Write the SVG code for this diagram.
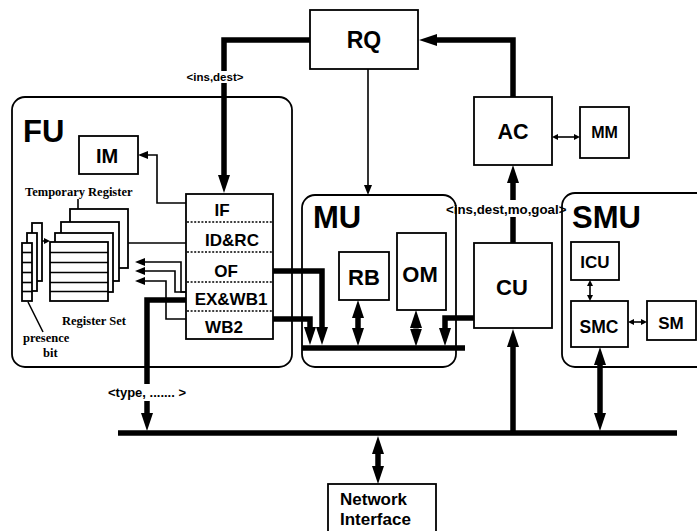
<svg xmlns="http://www.w3.org/2000/svg" width="697" height="531" viewBox="0 0 697 531">
<style>
.box{fill:#fff;stroke:#000;stroke-width:1.8}
.cont{fill:none;stroke:#000;stroke-width:1.8}
.thick{fill:none;stroke:#000;stroke-width:5.5}
.thin{fill:none;stroke:#000;stroke-width:1.6}
.dot{stroke:#000;stroke-width:1.6;stroke-dasharray:2,1.6}
.t{font-family:"Liberation Sans",Arial,sans-serif;font-weight:bold;fill:#000}
.s{font-family:"Liberation Serif","Times New Roman",serif;font-weight:bold;fill:#000;font-size:12.5px}
</style>
<defs>
<marker id="big" markerUnits="userSpaceOnUse" viewBox="0 -6 18 12" refX="0" refY="0" markerWidth="18" markerHeight="12" orient="auto-start-reverse"><path d="M0,-6 L18,0 L0,6 z"/></marker>
<marker id="sm" markerUnits="userSpaceOnUse" viewBox="0 -4 10 8" refX="0" refY="0" markerWidth="10" markerHeight="8" orient="auto-start-reverse"><path d="M0,-4 L10,0 L0,4 z"/></marker>
<marker id="xs" markerUnits="userSpaceOnUse" viewBox="0 -3 6 6" refX="0" refY="0" markerWidth="6" markerHeight="6" orient="auto-start-reverse"><path d="M0,-3 L6,0 L0,3 z"/></marker>
</defs>

<g id="FU">
<rect class="cont" x="12" y="97" width="280" height="270" rx="13"/>
<text class="t" x="23" y="142" font-size="31">FU</text>
</g>
<g id="MU">
<rect class="cont" x="302" y="195" width="154" height="172" rx="13"/>
<text class="t" x="313" y="228" font-size="31">MU</text>
</g>
<g id="SMU">
<rect class="cont" x="562" y="193" width="160" height="174" rx="13"/>
<text class="t" x="572" y="228" font-size="31">SMU</text>
</g>

<g id="RQ"><rect class="box" x="310" y="10" width="108" height="59"/><text class="t" x="364" y="48" font-size="23" text-anchor="middle">RQ</text></g>
<g id="AC"><rect class="box" x="474" y="97" width="78" height="68"/><text class="t" x="513" y="139" font-size="21.5" text-anchor="middle">AC</text></g>
<g id="MM"><rect class="box" x="580" y="107" width="49" height="51"/><text class="t" x="604.5" y="138" font-size="16" text-anchor="middle">MM</text></g>
<g id="IM"><rect class="box" x="79" y="136" width="59" height="38"/><text class="t" x="107" y="163" font-size="20" text-anchor="middle">IM</text></g>
<g id="CU"><rect class="box" x="474" y="243" width="78" height="85"/><text class="t" x="512" y="295" font-size="22" text-anchor="middle">CU</text></g>
<g id="RB"><rect class="box" x="339" y="252" width="50" height="48"/><text class="t" x="364" y="285" font-size="22" text-anchor="middle">RB</text></g>
<g id="OM"><rect class="box" x="397" y="233" width="49" height="77"/><text class="t" x="420" y="282" font-size="22" text-anchor="middle">OM</text></g>
<g id="ICU"><rect class="box" x="571" y="242" width="48" height="38"/><text class="t" x="595" y="268" font-size="17" text-anchor="middle">ICU</text></g>
<g id="SMC"><rect class="box" x="571" y="301" width="57" height="46"/><text class="t" x="599" y="333" font-size="17.5" text-anchor="middle">SMC</text></g>
<g id="SM"><rect class="box" x="647" y="301" width="49" height="39"/><text class="t" x="671" y="329" font-size="17" text-anchor="middle">SM</text></g>
<g id="NetworkInterface"><rect class="box" x="328" y="484" width="108" height="60"/>
<text class="t" x="340" y="505" font-size="17">Network</text><text class="t" x="340" y="524.5" font-size="17">Interface</text></g>

<g id="Pipeline">
<rect class="box" x="186" y="194" width="87" height="145"/>
<line class="dot" x1="187" y1="222" x2="272" y2="222"/>
<line class="dot" x1="187" y1="252" x2="272" y2="252"/>
<line class="dot" x1="187" y1="282" x2="272" y2="282"/>
<line class="dot" x1="187" y1="311" x2="272" y2="311"/>
<text class="t" x="222" y="216" font-size="17" text-anchor="middle">IF</text>
<text class="t" x="232" y="246" font-size="17" text-anchor="middle">ID&amp;RC</text>
<text class="t" x="226" y="277" font-size="17" text-anchor="middle">OF</text>
<text class="t" x="231" y="305" font-size="17" text-anchor="middle">EX&amp;WB1</text>
<text class="t" x="224" y="333" font-size="17" text-anchor="middle">WB2</text>
</g>

<g id="RegisterSet">
<rect class="box" x="70" y="209" width="58" height="59"/>
<rect class="box" x="61" y="222" width="58" height="59"/>
<rect class="box" x="55" y="233" width="58" height="59"/>
<rect class="box" x="50" y="242" width="58" height="59"/>
<g class="thin">
<line x1="50" y1="252.5" x2="108" y2="252.5"/><line x1="50" y1="262.5" x2="108" y2="262.5"/><line x1="50" y1="272.5" x2="108" y2="272.5"/><line x1="50" y1="282.5" x2="108" y2="282.5"/><line x1="50" y1="291.5" x2="108" y2="291.5"/>
</g>
<text class="s" x="25" y="196">Temporary Register</text>
<line class="thin" x1="78" y1="199" x2="78" y2="209"/>
<text class="s" x="62" y="325">Register Set</text>
</g>

<g id="PresenceBit">
<rect class="box" x="32" y="223" width="10" height="58"/>
<rect class="box" x="27" y="233" width="10" height="58"/>
<rect class="box" x="22" y="243" width="10" height="58"/>
<g class="thin">
<line x1="22" y1="252.5" x2="32" y2="252.5"/><line x1="22" y1="262.5" x2="32" y2="262.5"/><line x1="22" y1="272.5" x2="32" y2="272.5"/><line x1="22" y1="282.5" x2="32" y2="282.5"/><line x1="22" y1="291.5" x2="32" y2="291.5"/>
</g>
<line class="thin" x1="28" y1="302" x2="43" y2="332"/>
<text class="s" x="23" y="342">presence</text>
<text class="s" x="43" y="357">bit</text>
</g>

<g id="connectors">
<polyline class="thick" points="310,40 224,40 224,71"/>
<line class="thick" x1="224" y1="83" x2="224" y2="175" marker-end="url(#big)"/>
<text class="t" x="215" y="81" font-size="11.5" text-anchor="middle">&lt;ins,dest&gt;</text>
<polyline class="thick" points="513,97 513,40 437,40" marker-end="url(#big)"/>
<line class="thin" x1="368" y1="69" x2="368" y2="185" marker-end="url(#sm)"/>
<line class="thick" x1="513" y1="200" x2="513" y2="183" marker-end="url(#big)"/>
<line class="thick" x1="513" y1="243" x2="513" y2="217"/>
<text class="t" x="446" y="214" font-size="13.3">&lt;ins,dest,mo,goal&gt;</text>
<line class="thin" x1="558" y1="137" x2="574" y2="137" marker-start="url(#xs)" marker-end="url(#xs)"/>
<polyline class="thin" points="186,203 157,203 157,155 148,155" marker-end="url(#sm)"/>
<line class="thin" x1="186" y1="243" x2="128" y2="243"/>
<line class="thin" x1="42" y1="241" x2="44" y2="241" marker-end="url(#xs)"/>
<polyline class="thin" points="186,292 181,292 181,262 145,262" marker-end="url(#sm)"/>
<polyline class="thin" points="186,292 175,292 175,271 145,271" marker-end="url(#sm)"/>
<polyline class="thin" points="186,319 166,319 166,281 145,281" marker-end="url(#sm)"/>
<polyline class="thick" points="186,300 147,300 147,384"/>
<line class="thick" x1="147" y1="401" x2="147" y2="413" marker-end="url(#big)"/>
<text class="t" x="108" y="397" font-size="13">&lt;type, ....... &gt;</text>
<polyline class="thick" points="273,271 322,271 322,327" marker-end="url(#big)"/>
<polyline class="thick" points="273,319 310,319 310,327" marker-end="url(#big)"/>
<line class="thick" x1="302" y1="348" x2="465" y2="348"/>
<line class="thick" x1="358" y1="318" x2="358" y2="328" marker-start="url(#big)" marker-end="url(#big)"/>
<line class="thick" x1="416" y1="328" x2="416" y2="328.5" marker-start="url(#big)" marker-end="url(#big)"/>
<polyline class="thick" points="474,318 445,318 445,328" marker-end="url(#big)"/>
<line class="thick" x1="118" y1="433" x2="677" y2="433"/>
<line class="thick" x1="513" y1="433" x2="513" y2="347" marker-end="url(#big)"/>
<line class="thick" x1="600" y1="365" x2="600" y2="413" marker-start="url(#big)" marker-end="url(#big)"/>
<line class="thick" x1="378" y1="454" x2="378" y2="466" marker-start="url(#big)" marker-end="url(#big)"/>
<line class="thin" x1="590" y1="286" x2="590" y2="295" marker-start="url(#xs)" marker-end="url(#xs)"/>
<line class="thin" x1="634" y1="322" x2="641" y2="322" marker-start="url(#xs)" marker-end="url(#xs)"/>
</g>
</svg>
